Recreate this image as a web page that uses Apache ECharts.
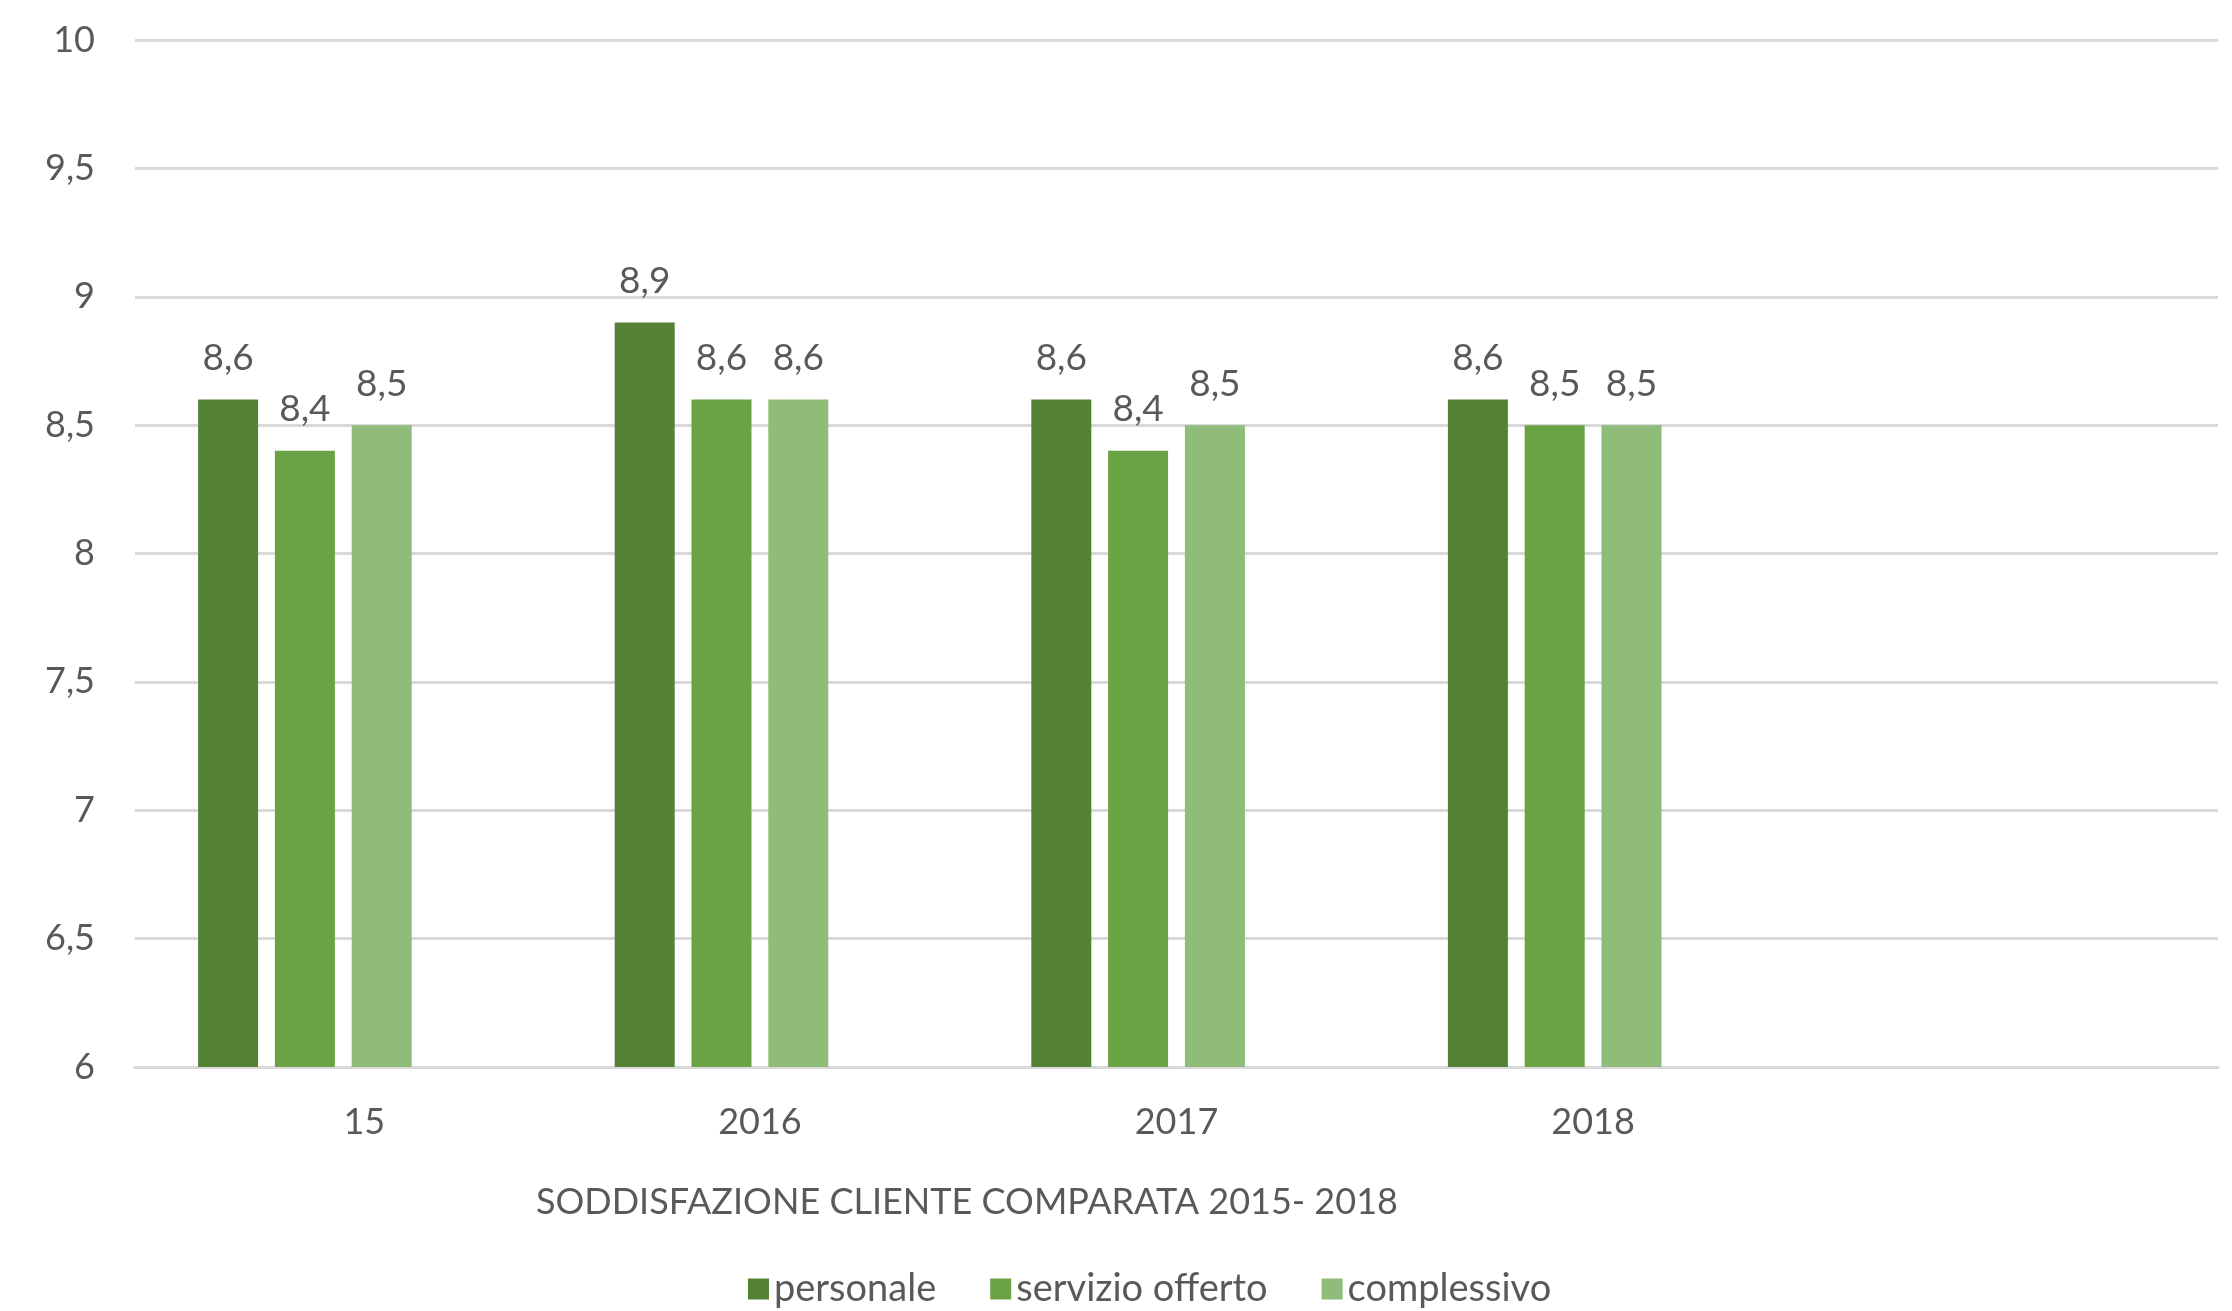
<!DOCTYPE html>
<html>
<head>
<meta charset="utf-8">
<title>Soddisfazione cliente 2015-2018</title>
<script src="https://cdn.jsdelivr.net/npm/echarts@6/dist/echarts.min.js"></script>
<style>
  html, body { margin: 0; padding: 0; background: #fff; }
  #chart { width: 2232px; height: 1311px; }
</style>
</head>
<body>
<div id="chart"></div>
<script>
// dati
const categories = ['15', '2016', '2017', '2018', '']
const personale = [8.6, 8.9, 8.6, 8.6, null]
const servizioOfferto = [8.4, 8.6, 8.4, 8.5, null]
const complessivo = [8.5, 8.6, 8.5, 8.5, null]
// serie vuota: nel grafico originale occupa un posto nel gruppo
const vuota = [null, null, null, null, null]

const textColor = '#595959'
const font = 'Lato, "Open Sans", sans-serif'
const comma = v => String(v).replace('.', ',')

const barLabel = {
  show: true,
  position: 'top',
  distance: 23,
  color: textColor,
  fontFamily: font,
  fontSize: 37,
  formatter: p => comma(p.value)
}

const chart = echarts.init(document.getElementById('chart'))
chart.setOption({
  animation: false,
  title: {
    text: 'SODDISFAZIONE CLIENTE COMPARATA 2015- 2018',
    left: 531,
    top: 1179,
    textStyle: {color: textColor, fontFamily: font, fontSize: 36, fontWeight: 'normal'}
  },
  legend: {
    data: ['personale', 'servizio offerto', 'complessivo'],
    left: 743,
    top: 1265,
    icon: 'rect',
    itemWidth: 21,
    itemHeight: 21,
    itemGap: 54,
    textStyle: {color: textColor, fontFamily: font, fontSize: 38}
  },
  grid: {left: 135, right: 14, top: 40, bottom: 244},
  xAxis: {
    type: 'category',
    data: categories,
    axisTick: {show: false},
    axisLine: {lineStyle: {color: '#d9d9d9', width: 3}},
    axisLabel: {
      color: textColor, fontFamily: font, fontSize: 36, margin: 37,
      // nell'originale "15" è spostato a destra (resto di "2015")
      formatter: v => v === '15' ? '{shift|15}' : v,
      rich: {shift: {color: textColor, fontFamily: font, fontSize: 36, padding: [0, 0, 0, 42]}}
    }
  },
  yAxis: {
    type: 'value',
    min: 6,
    max: 10,
    interval: 0.5,
    axisLine: {show: false},
    axisTick: {show: false},
    splitLine: {lineStyle: {color: '#d9d9d9', width: 3}},
    axisLabel: {color: textColor, fontFamily: font, fontSize: 36, margin: 40, formatter: comma}
  },
  series: [
    {name: 'personale', type: 'bar', data: personale, barWidth: 60, barGap: '28%',
      itemStyle: {color: '#548235'}, label: barLabel},
    {name: 'servizio offerto', type: 'bar', data: servizioOfferto, barWidth: 60,
      itemStyle: {color: '#6aa343'}, label: barLabel},
    {name: 'complessivo', type: 'bar', data: complessivo, barWidth: 60,
      itemStyle: {color: '#8fbc78'}, label: barLabel},
    {name: 'vuota', type: 'bar', data: vuota, barWidth: 60}
  ]
})
</script>
</body>
</html>
